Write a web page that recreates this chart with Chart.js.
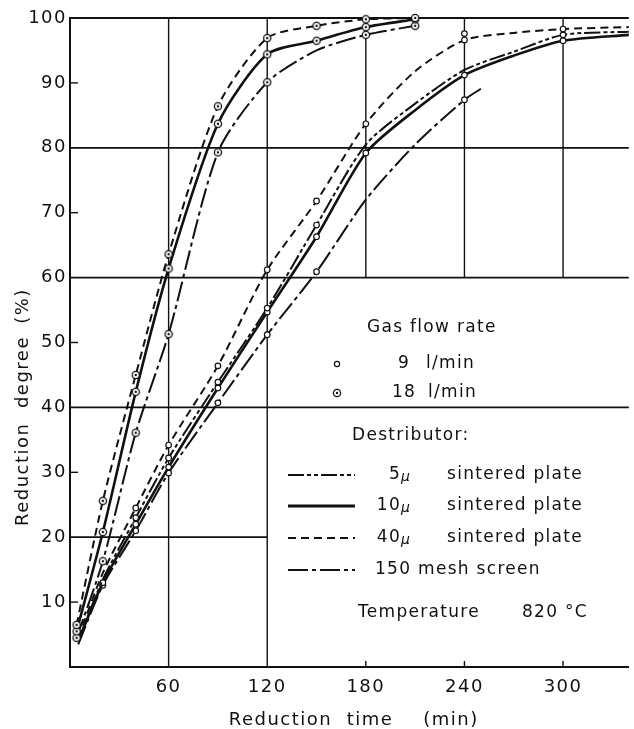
<!DOCTYPE html>
<html>
<head>
<meta charset="utf-8">
<script src="https://cdn.jsdelivr.net/npm/chart.js@4.4.1/dist/chart.umd.min.js"></script>
<style>
  html, body { margin: 0; padding: 0; background: #fff; }
  #wrap { width: 634px; height: 729px; }
</style>
</head>
<body>
<div id="wrap"><canvas id="chart" width="634" height="729"></canvas></div>
<script>
// axis ticks
const xTicks = [60, 120, 180, 240, 300];
const yTicks = [10, 20, 30, 40, 50, 60, 70, 80, 90, 100];

// gas flow 18 l/min : time (min) / reduction degree (%)
const t18 = [4, 20, 40, 60, 90, 120, 150, 180, 210];
const r18_40u = [6.5, 25.6, 45.0, 63.6, 86.4, 96.9, 98.8, 99.8, 100];
const r18_10u = [5.5, 20.8, 42.4, 61.4, 83.7, 94.4, 96.5, 98.6, 99.8];
const r18_mesh = [4.5, 16.3, 36.1, 51.3, 79.3, 90.1, 95.0, 97.4, 98.8];
// measured points (1) vs. curve only (0)
const p18_40u = [1, 1, 1, 1, 1, 1, 1, 1, 1];
const p18_10u = [1, 1, 1, 1, 1, 1, 1, 1, 1];
const p18_mesh = [1, 1, 1, 1, 1, 1, 0, 1, 1];

// gas flow 9 l/min
const t9 = [5, 20, 40, 60, 90, 120, 150, 180, 210, 240, 270, 300, 340];
const r9_40u = [4.5, 14.5, 24.5, 34.2, 46.4, 61.2, 71.8, 83.7, 91.8, 96.6, 97.7, 98.3, 98.6];
const r9_5u = [4.0, 13.5, 23.0, 32.2, 43.9, 55.3, 68.1, 80.5, 86.8, 92.0, 94.8, 97.4, 97.9];
const r9_10u = [4.0, 13.0, 22.0, 30.8, 43.0, 54.7, 66.3, 79.2, 85.8, 91.2, 94.2, 96.5, 97.4];
const p9_40u = [0, 0, 1, 1, 1, 1, 1, 1, 0, 1, 0, 1, 0];
const p9_5u = [0, 0, 1, 1, 1, 1, 1, 0, 0, 0, 0, 1, 0];
const p9_10u = [0, 1, 1, 1, 1, 1, 1, 1, 0, 1, 0, 1, 0];
const t9_mesh = [5, 20, 40, 60, 90, 120, 150, 180, 210, 240, 250];
const r9_mesh = [3.5, 12.6, 21.0, 29.9, 40.7, 51.2, 60.9, 72.0, 80.5, 87.4, 89.1];
const p9_mesh = [0, 1, 1, 1, 1, 1, 1, 0, 0, 1, 0];
// stray measured point
const extraT = [240];
const extraR = [97.6];

const INK = '#111';
const DASH_5U = [16, 3, 4, 3, 4, 3];
const DASH_40U = [8, 5];
const DASH_MESH = [20, 4, 4, 4];

// ⊙ symbol for 18 l/min
function makeDotCircle() {
    const c = document.createElement('canvas');
    c.width = 10; c.height = 10;
    const g = c.getContext('2d');
    g.beginPath(); g.arc(5, 5, 3.6, 0, Math.PI * 2);
    g.fillStyle = '#fff'; g.fill();
    g.lineWidth = 1.3; g.strokeStyle = INK; g.stroke();
    g.beginPath(); g.arc(5, 5, 1.2, 0, Math.PI * 2);
    g.fillStyle = INK; g.fill();
    return c;
}
const dotCircle = makeDotCircle();

function pts(t, r) { return t.map((v, i) => ({ x: v, y: r[i] })); }

function series(t, r, marks, dash, width, big) {
    return {
        data: pts(t, r),
        borderColor: INK,
        borderWidth: width,
        borderDash: dash,
        backgroundColor: '#fff',
        pointBackgroundColor: '#fff',
        pointBorderColor: INK,
        pointBorderWidth: 1.2,
        pointStyle: big ? dotCircle : 'circle',
        pointRadius: marks.map(m => m ? 2.8 : 0),
        tension: 0.25,
        fill: false,
        clip: false
    };
}

const datasets = [
    series(t18, r18_40u, p18_40u, DASH_40U, 2, true),
    series(t18, r18_10u, p18_10u, [], 2.6, true),
    series(t18, r18_mesh, p18_mesh, DASH_MESH, 2, true),
    series(t9, r9_40u, p9_40u, DASH_40U, 2, false),
    series(t9, r9_5u, p9_5u, DASH_5U, 2, false),
    series(t9, r9_10u, p9_10u, [], 2.6, false),
    series(t9_mesh, r9_mesh, p9_mesh, DASH_MESH, 2, false),
    Object.assign(series(extraT, extraR, [1], [], 0, false), { showLine: false })
];

const FONT = '"DejaVu Sans", sans-serif';

// paper grid, small ticks, legend block and axis titles
const paperPlugin = {
    id: 'paper',
    beforeDraw(chart) {
        // a little wider spacing for the tick numbers
        chart.ctx.letterSpacing = '1.5px';
    },
    beforeDatasetsDraw(chart) {
        const { ctx, scales: { x, y } } = chart;
        const seg = (x1, y1, x2, y2) => {
            ctx.beginPath();
            ctx.moveTo(x.getPixelForValue(x1), y.getPixelForValue(y1));
            ctx.lineTo(x.getPixelForValue(x2), y.getPixelForValue(y2));
            ctx.stroke();
        };
        ctx.save();
        ctx.strokeStyle = INK;
        ctx.lineWidth = 1.8;
        [100, 80, 60, 40].forEach(v => seg(0, v, 340, v));
        seg(0, 20, 120, 20);
        ctx.lineWidth = 1.4;
        seg(60, 0, 60, 100);
        seg(120, 0, 120, 100);
        [180, 240, 300].forEach(v => seg(v, 60, v, 100));
        // minor ticks
        [10, 30, 50, 70, 90].forEach(v => {
            const py = y.getPixelForValue(v), px = x.getPixelForValue(0);
            ctx.beginPath(); ctx.moveTo(px, py); ctx.lineTo(px + 8, py); ctx.stroke();
        });
        [180, 240, 300].forEach(v => {
            const px = x.getPixelForValue(v), py = y.getPixelForValue(0);
            ctx.beginPath(); ctx.moveTo(px, py); ctx.lineTo(px, py - 6); ctx.stroke();
        });
        ctx.restore();
    },
    afterDraw(chart) {
        const { ctx } = chart;
        ctx.save();
        ctx.fillStyle = INK;
        ctx.strokeStyle = INK;
        ctx.textBaseline = 'middle';
        ctx.textAlign = 'left';
        ctx.letterSpacing = '1.3px';
        const body = '17px ' + FONT;
        ctx.font = body;

        // gas flow legend
        ctx.fillText('Gas flow rate', 367, 328);
        ctx.beginPath(); ctx.arc(337, 364, 2.6, 0, Math.PI * 2);
        ctx.lineWidth = 1.2; ctx.stroke();
        ctx.fillText('9', 398, 364);
        ctx.fillText('l/min', 426, 364);
        ctx.drawImage(dotCircle, 332, 388);
        ctx.fillText('18', 392, 393);
        ctx.fillText('l/min', 428, 393);

        // distributor legend
        ctx.fillText('Destributor:', 352, 436);
        const rows = [
            { y: 475, dash: DASH_5U, w: 2.2, num: '5', label: 'sintered plate' },
            { y: 506, dash: [], w: 2.8, num: '10', label: 'sintered plate' },
            { y: 538, dash: DASH_40U, w: 2.2, num: '40', label: 'sintered plate' },
            { y: 570, dash: DASH_MESH, w: 2.2, num: null, label: '150 mesh screen' }
        ];
        rows.forEach(r => {
            ctx.beginPath();
            ctx.setLineDash(r.dash);
            ctx.lineWidth = r.w;
            ctx.moveTo(288, r.y); ctx.lineTo(355, r.y); ctx.stroke();
            ctx.setLineDash([]);
            ctx.font = body;
            if (r.num) {
                ctx.textAlign = 'right';
                ctx.fillText(r.num, 401, r.y);
                ctx.textAlign = 'left';
                ctx.font = 'italic 14px ' + FONT;
                ctx.fillText('μ', 401, r.y + 2);
                ctx.font = body;
                ctx.fillText(r.label, 447, r.y);
            } else {
                ctx.fillText(r.label, 375, r.y);
            }
        });
        ctx.fillText('Temperature', 358, 613);
        ctx.fillText('820 °C', 522, 613);

        // axis titles
        ctx.font = '18px ' + FONT;
        ctx.letterSpacing = '1.5px';
        ctx.textAlign = 'center';
        ctx.fillText('Reduction  time', 311, 720);
        ctx.fillText('(min)', 451, 720);
        ctx.save();
        ctx.translate(23, 0);
        ctx.rotate(-Math.PI / 2);
        ctx.fillText('Reduction  degree', -431, 0);
        ctx.fillText('(%)', -306, 0);
        ctx.restore();
        ctx.restore();
    }
};

new Chart(document.getElementById('chart').getContext('2d'), {
    type: 'line',
    data: { datasets },
    options: {
        responsive: false,
        animation: false,
        devicePixelRatio: 1,
        layout: { padding: { top: 18, right: 0, left: 0, bottom: 0 } },
        plugins: { legend: { display: false }, tooltip: { enabled: false } },
        scales: {
            x: {
                type: 'linear',
                min: 0,
                max: 340,
                grid: { display: false, drawTicks: false },
                border: { display: true, color: INK, width: 2 },
                afterBuildTicks: s => { s.ticks = xTicks.map(v => ({ value: v })); },
                afterFit: s => { s.height = 62; },
                ticks: { color: INK, font: { family: FONT, size: 18 }, padding: 10, maxRotation: 0 }
            },
            y: {
                type: 'linear',
                min: 0,
                max: 100,
                grid: { display: false, drawTicks: false },
                border: { display: true, color: INK, width: 2 },
                afterBuildTicks: s => { s.ticks = yTicks.map(v => ({ value: v })); },
                afterFit: s => { s.width = 70; },
                ticks: { color: INK, font: { family: FONT, size: 18 }, padding: 3 }
            }
        }
    },
    plugins: [paperPlugin]
});
</script>
</body>
</html>
